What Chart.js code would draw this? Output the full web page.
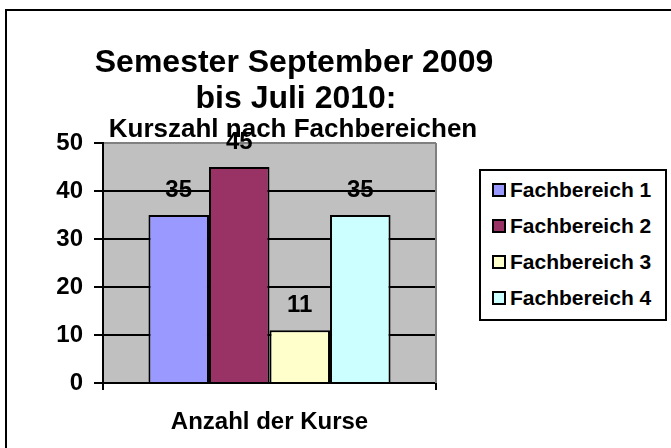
<!DOCTYPE html>
<html>
<head>
<meta charset="utf-8">
<script src="https://cdn.jsdelivr.net/npm/chart.js@4/dist/chart.umd.min.js"></script>
<style>
  html, body { margin: 0; padding: 0; background: #fff; }
  #wrap { position: relative; width: 671px; height: 448px; overflow: hidden; }
  canvas { display: block; }
  #legend {
    position: absolute; left: 479px; top: 169px; width: 184px; height: 147px;
    border: 2px solid #000; background: #fff; box-sizing: content-box;
    font: bold 21px "Liberation Sans", Arial, sans-serif; color: #000;
    padding-top: 1px;
  }
  #legend .item { height: 36px; line-height: 36px; white-space: nowrap; position: relative; }
  #legend .swatch {
    position: absolute; left: 11px; top: 11px; width: 10px; height: 10px;
    border: 2px solid #000;
  }
  #legend .label { position: absolute; left: 29px; top: 0; }
</style>
</head>
<body>
<div id="wrap">
  <canvas id="chart" width="671" height="448"></canvas>
  <div id="legend"></div>
</div>
<script>
// chart data
const categories = ['Anzahl der Kurse'];
const seriesNames = ['Fachbereich 1', 'Fachbereich 2', 'Fachbereich 3', 'Fachbereich 4'];
const seriesValues = [35, 45, 11, 35];
const seriesColors = ['#9999FF', '#993366', '#FFFFCC', '#CCFFFF'];
const titleLines = ['Semester September 2009', 'bis Juli 2010:', 'Kurszahl nach Fachbereichen'];
const yMin = 0;
const yMax = 50;
const yStep = 10;

const FONT = '"Liberation Sans", Arial, sans-serif';
Chart.defaults.font.family = FONT;
Chart.defaults.color = '#000';

// white page, grey plot area, outer frame, title text, value labels
const decorPlugin = {
    id: 'decor',
    beforeDraw(chart) {
        const { ctx, chartArea } = chart;
        ctx.save();
        ctx.fillStyle = '#fff';
        ctx.fillRect(0, 0, chart.width, chart.height);
        ctx.fillStyle = '#C0C0C0';
        ctx.fillRect(chartArea.left, chartArea.top, chartArea.right - chartArea.left, chartArea.bottom - chartArea.top);
        ctx.restore();
    },
    afterDatasetsDraw(chart) {
        const ctx = chart.ctx;
        ctx.save();
        ctx.fillStyle = '#000';
        ctx.font = 'bold 24px ' + FONT;
        ctx.textAlign = 'center';
        ctx.textBaseline = 'middle';
        chart.data.datasets.forEach((ds, i) => {
            chart.getDatasetMeta(i).data.forEach((bar, j) => {
                ctx.fillText(String(ds.data[j]), bar.x, bar.y - 25);
            });
        });
        ctx.restore();
    },
    afterDraw(chart) {
        const { ctx, chartArea } = chart;
        ctx.save();
        // grey right edge of the plot area
        ctx.strokeStyle = '#808080';
        ctx.lineWidth = 2;
        ctx.beginPath();
        ctx.moveTo(chartArea.right, chartArea.top);
        ctx.lineTo(chartArea.right, chartArea.bottom);
        ctx.stroke();

        // frame (only top and left edges are inside the picture)
        ctx.strokeStyle = '#000';
        ctx.beginPath();
        ctx.moveTo(6, chart.height);
        ctx.lineTo(6, 10);
        ctx.lineTo(chart.width, 10);
        ctx.stroke();

        // title
        ctx.fillStyle = '#000';
        ctx.textAlign = 'center';
        ctx.textBaseline = 'alphabetic';
        ctx.font = 'bold 32px ' + FONT;
        ctx.fillText(titleLines[0], 294, 72);
        ctx.fillText(titleLines[1], 296, 108);
        ctx.font = 'bold 26px ' + FONT;
        ctx.fillText(titleLines[2], 293, 137);
        ctx.restore();
    }
};

const datasets = seriesNames.map((name, i) => ({
    label: name,
    data: [seriesValues[i]],
    backgroundColor: seriesColors[i],
    borderColor: '#000',
    borderWidth: 2,
    categoryPercentage: 0.727,
    barPercentage: 1.0
}));

const chart = new Chart(document.getElementById('chart'), {
    type: 'bar',
    data: {
        labels: categories,
        datasets: datasets
    },
    options: {
        responsive: false,
        animation: false,
        layout: {
            padding: { top: 143, left: 0, right: 235, bottom: 0 }
        },
        scales: {
            x: {
                grid: {
                    display: true,
                    drawOnChartArea: false,
                    offset: true,
                    color: '#000',
                    lineWidth: 2,
                    tickLength: 7
                },
                border: { display: true, color: '#000', width: 2 },
                ticks: {
                    padding: 18,
                    font: { size: 24, weight: 'bold' },
                    color: '#000'
                },
                afterFit(scale) { scale.height = 65; }
            },
            y: {
                min: yMin,
                max: yMax,
                ticks: {
                    stepSize: yStep,
                    padding: 11,
                    font: { size: 24, weight: 'bold' },
                    color: '#000'
                },
                grid: {
                    color: (c) => (c.tick && c.tick.value === yMax ? '#808080' : '#000'),
                    tickColor: '#000',
                    lineWidth: 2,
                    tickLength: 9
                },
                border: { display: true, color: '#000', width: 2 },
                afterFit(scale) { scale.width = 103; }
            }
        },
        plugins: {
            legend: { display: false },
            tooltip: { enabled: false }
        }
    },
    plugins: [decorPlugin]
});

// legend built from the chart's datasets
const legendEl = document.getElementById('legend');
chart.data.datasets.forEach((ds) => {
    const item = document.createElement('div');
    item.className = 'item';
    const sw = document.createElement('span');
    sw.className = 'swatch';
    sw.style.background = ds.backgroundColor;
    const lb = document.createElement('span');
    lb.className = 'label';
    lb.textContent = ds.label;
    item.appendChild(sw);
    item.appendChild(lb);
    legendEl.appendChild(item);
});
</script>
</body>
</html>
